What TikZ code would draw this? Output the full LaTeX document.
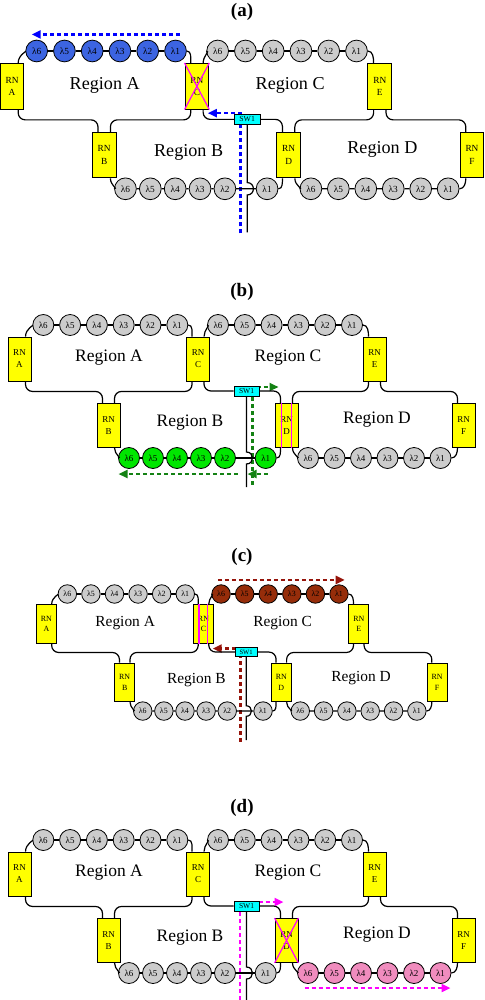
\documentclass[tikz,border=0pt]{standalone}
\usepackage{fontspec}
\setmainfont{Liberation Serif}
\usetikzlibrary{arrows.meta}

\definecolor{ringgray}{RGB}{204,204,204}
\definecolor{lamblue}{RGB}{60,100,225}
\definecolor{lamgreen}{RGB}{0,230,0}
\definecolor{lambrown}{RGB}{150,45,10}
\definecolor{lampink}{RGB}{240,140,190}
\definecolor{rnyellow}{RGB}{255,255,0}
\definecolor{swcyan}{RGB}{0,255,255}
\definecolor{cutpink}{RGB}{255,0,255}
\definecolor{flowblue}{RGB}{0,0,255}
\definecolor{flowgreen}{RGB}{20,130,20}
\definecolor{flowbrown}{RGB}{150,20,10}

\tikzset{
  lam/.style={circle, draw, line width=0.8pt, fill=ringgray, minimum size=21, inner sep=0pt, font=\fontsize{9}{9}\selectfont},
  rn/.style={draw, line width=0.9pt, fill=rnyellow, minimum width=23, minimum height=44, inner sep=0pt, align=center, font=\fontsize{9}{12}\selectfont},
  sw/.style={draw, line width=0.8pt, fill=swcyan, minimum width=25, minimum height=10, inner sep=0pt, font=\fontsize{7.5}{7.5}\selectfont},
  region/.style={font=\fontsize{17.5}{18}\selectfont},
  wire/.style={line width=1.2pt},
  flow/.style={line width=2.2pt, dash pattern=on 4pt off 3pt},
  tip/.style={-{Triangle[length=9pt,width=8pt]}},
  cut/.style={cutpink, line width=1.2pt},
  title/.style={font=\bfseries\fontsize{19}{20}\selectfont}
}

% one drawing of the network: fills of rings A, C, B, D, end of the feeder
\newcommand{\network}[5]{%
  \foreach \i/\x in {6/-198.2,5/-171.4,4/-144.6,3/-117.8,2/-91,1/-64.2}
    \node[lam, fill=#1] (A\i) at (\x,0) {λ\i};
  \foreach \i/\x in {6/-23.5,5/3.3,4/30.1,3/56.9,2/83.7,1/110.5}
    \node[lam, fill=#2] (C\i) at (\x,0) {λ\i};
  \foreach \i/\x in {6/-112.5,5/-88.5,4/-64.5,3/-40.5,2/-16.5,1/24.2}
    \node[lam, fill=#3] (B\i) at (\x,133) {λ\i};
  \foreach \i/\x in {6/66.5,5/93,4/119.5,3/146,2/172.5,1/199}
    \node[lam, fill=#4] (D\i) at (\x,133) {λ\i};
  \node[rn] (RNA) at (-222,34) {RN\\A};
  \node[rn] (RNC) at (-43.5,34) {RN\\C};
  \node[rn] (RNE) at (133,34) {RN\\E};
  \node[rn] (RNB) at (-133,100.5) {RN\\B};
  \node[rn] (RND) at (45,100.5) {RN\\D};
  \node[rn] (RNF) at (222,100.5) {RN\\F};
  \node[sw] (SW) at (5,66) {SW1};
  \node[region] (regA) at (-132.5,33) {Region A};
  \node[region] (regC) at (46.5,33) {Region C};
  \node[region] (regB) at (-51.5,98) {Region B};
  \node[region] (regD) at (135.5,95) {Region D};
  % fibre
  \foreach \r in {A,C,B,D}
    \foreach \i/\j in {6/5,5/4,4/3,3/2,2/1}
      \draw[wire] (\r\i) -- (\r\j);
  \draw[wire] ([xshift=6]RNA.north) to[out=90,in=180] (A6);
  \draw[wire] (A1) to[out=0,in=90] ([xshift=-6]RNC.north);
  \draw[wire] ([xshift=6]RNC.north) to[out=90,in=180] (C6);
  \draw[wire] (C1) to[out=0,in=90] ([xshift=-6]RNE.north);
  \draw[wire] ([xshift=6]RNB.south) to[out=-90,in=180] (B6);
  \draw[wire] (B1) to[out=0,in=-90] ([xshift=-6]RND.south);
  \draw[wire] ([xshift=6]RND.south) to[out=-90,in=180] (D6);
  \draw[wire] (D1) to[out=0,in=-90] ([xshift=-6]RNF.south);
  \draw[wire, rounded corners=7] ([xshift=6]RNA.south) -- ++(0,10) -| ([xshift=-6]RNB.north);
  \draw[wire, rounded corners=7] ([xshift=-6]RNC.south) -- ++(0,10) -| ([xshift=6]RNB.north);
  \draw[wire, rounded corners=7] ([xshift=6]RNC.south) |- (SW.west);
  \draw[wire, rounded corners=7] (SW.east) -| ([xshift=-6]RND.north);
  \draw[wire, rounded corners=7] ([xshift=-6]RNE.south) -- ++(0,10) -| ([xshift=6]RND.north);
  \draw[wire, rounded corners=7] ([xshift=6]RNE.south) -- ++(0,10) -| ([xshift=-6]RNF.north);
  \draw[wire] (SW.south) -- (5,127) .. controls (13,127) and (13,139) .. (5,139) -- (5,#5);
}

\begin{document}
\begin{tikzpicture}[x=1pt, y=-1pt]
  \useasboundingbox (0,0) rectangle (484,1000);

  % (a)
  \node[title] (ta) at (242,12) {(a)};
  \begin{scope}[shift={(242,51)}, scale=1.036, transform shape, name prefix=a-]
    \draw[flow, tip, flowblue] (-60,-16) -- (-203,-16);
    \draw[flow, tip, flowblue] (-1.5,176) -- (-1.5,60) -- (-33,60);
    \network{lamblue}{ringgray}{ringgray}{ringgray}{175}
    \draw[cut] (RNC.north west) -- (RNC.south east) (RNC.north east) -- (RNC.south west);
  \end{scope}

  % (b)
  \node[title] (tb) at (242,292) {(b)};
  \begin{scope}[shift={(241.5,325)}, name prefix=b-]
    \draw[flow, tip, flowgreen] (15,62) -- (37,62);
    \draw[flow, flowgreen] (11,72) -- (11,162);
    \draw[flow, tip, flowgreen] (-4,149) -- (-123,149);
    \draw[flow, tip, flowgreen] (26,149) -- (6,149);
    \network{ringgray}{ringgray}{lamgreen}{ringgray}{162}
    \draw[cut] ([xshift=-5]RND.north) -- ([xshift=-5]RND.south) ([xshift=5]RND.north) -- ([xshift=5]RND.south);
  \end{scope}

  % (c)
  \node[title] (tc) at (242,557) {(c)};
  \begin{scope}[shift={(241.75,594)}, scale=0.88, transform shape, name prefix=c-]
    \draw[flow, tip, flowbrown] (-27,-16) -- (117,-16);
    \draw[flow, tip, flowbrown] (-1.5,168) -- (-1.5,62) -- (-33,62);
    \network{ringgray}{lambrown}{ringgray}{ringgray}{166}
    \draw[cut] ([xshift=-5]RNC.north) -- ([xshift=-5]RNC.south) ([xshift=5]RNC.north) -- ([xshift=5]RNC.south);
  \end{scope}

  % (d)
  \node[title] (td) at (242,808) {(d)};
  \begin{scope}[shift={(241.5,840)}, name prefix=d-]
    \draw[flow, tip, cutpink] (17,62) -- (42,62);
    \draw[flow, cutpink] (-1.5,72) -- (-1.5,162);
    \draw[flow, tip, cutpink] (63,148) -- (209,148);
    \network{ringgray}{ringgray}{ringgray}{lampink}{162}
    \draw[cut] (RND.north west) -- (RND.south east) (RND.north east) -- (RND.south west);
  \end{scope}
\end{tikzpicture}
\end{document}
